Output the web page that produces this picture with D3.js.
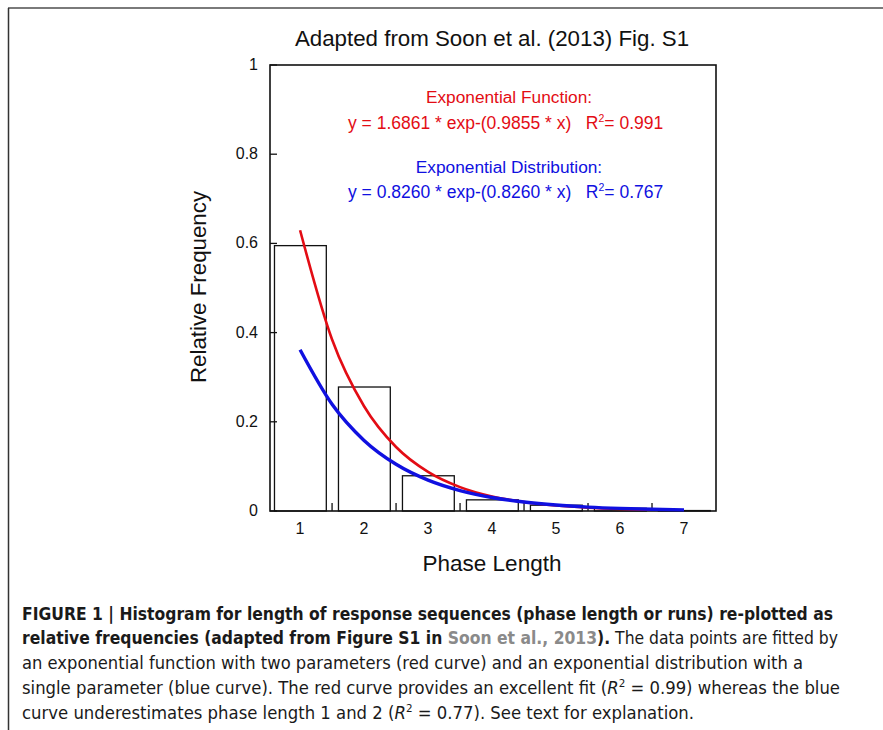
<!DOCTYPE html>
<html><head><meta charset="utf-8">
<script src="https://cdn.jsdelivr.net/npm/d3@7"></script>
<style>body{margin:0;background:#fff}svg{display:block}text{white-space:pre}</style>
</head><body>
<svg id="c" width="883" height="730"></svg>
<script>
// ---- data ----
const phaseLengths = [1, 2, 3, 4, 5, 6, 7];
const relFreq = [0.595, 0.278, 0.079, 0.025, 0.013, 0.006, 0.001];
const xTickLabels = [1, 2, 3, 4, 5, 6, 7];
const xTickMarks = [1.5, 2.5, 3.5, 4.5, 5.5, 6.5];
const yTicks = [0, 0.2, 0.4, 0.6, 0.8, 1];
const redX = [1, 1.5, 2, 2.5, 3, 3.5, 4, 4.5, 5, 5.5, 6, 6.5];
const redY = [0.6294, 0.3845, 0.2349, 0.1435, 0.0877, 0.0536, 0.0327, 0.0200, 0.0122, 0.0075, 0.0046, 0.0028];
const blueX = [1, 1.5, 2, 2.5, 3, 3.5, 4, 4.5, 5, 5.5, 6, 6.5, 7];
const blueY = [0.3616, 0.2393, 0.1583, 0.1048, 0.0693, 0.0459, 0.0303, 0.0201, 0.0133, 0.0088, 0.0058, 0.0038, 0.0025];

const svg = d3.select("#c");
const F = "'Liberation Sans', Arial, Helvetica, sans-serif";
const RED = "#e30c14", BLUE = "#1010e0";

// frame
svg.append("line").attr("x1", 8).attr("x2", 883).attr("y1", 8).attr("y2", 8).attr("stroke", "#7a7a7a").attr("stroke-width", 2);
svg.append("line").attr("x1", 8.5).attr("x2", 8.5).attr("y1", 8).attr("y2", 730).attr("stroke", "#333").attr("stroke-width", 1.5);

const L = 270, R = 716, T = 65, B = 511;
const x = d3.scaleLinear().domain([0.53, 7.5]).range([L, R]);
const y = d3.scaleLinear().domain([0, 1]).range([B, T]);

const g = svg.append("g");
// bars
const bw = 0.81;
g.selectAll("rect.bar").data(phaseLengths).join("rect")
  .attr("x", d => x(d - 0.4))
  .attr("width", d => x(d - 0.4 + bw) - x(d - 0.4))
  .attr("y", (d, i) => y(relFreq[i]))
  .attr("height", (d, i) => y(0) - y(relFreq[i]))
  .attr("fill", "none").attr("stroke", "#111").attr("stroke-width", 1.3);

// axes box
g.append("rect").attr("x", L).attr("y", T).attr("width", R - L).attr("height", B - T)
  .attr("fill", "none").attr("stroke", "#111").attr("stroke-width", 1.6);

// x ticks (inward)
g.selectAll("line.xt").data(xTickMarks).join("line")
  .attr("x1", d => x(d)).attr("x2", d => x(d)).attr("y1", B).attr("y2", B - 8)
  .attr("stroke", "#111").attr("stroke-width", 1.3);
// y ticks (inward)
g.selectAll("line.yt").data(yTicks).join("line")
  .attr("x1", L).attr("x2", L + 7).attr("y1", d => y(d)).attr("y2", d => y(d))
  .attr("stroke", "#111").attr("stroke-width", 1.3);

// tick labels
g.selectAll("text.xl").data(xTickLabels).join("text")
  .attr("x", d => x(d)).attr("y", 534).attr("text-anchor", "middle")
  .attr("font-family", F).attr("font-size", 16).attr("fill", "#111").text(d => d);
g.selectAll("text.yl").data(yTicks).join("text")
  .attr("x", 258).attr("y", d => y(d) + 5).attr("text-anchor", "end")
  .attr("font-family", F).attr("font-size", 16).attr("fill", "#111").text(d => d);

// curves
const line = d3.line().x(d => x(d[0])).y(d => y(d[1])).curve(d3.curveMonotoneX);
g.append("path").datum(redX.map((v, i) => [v, redY[i]])).attr("d", line)
  .attr("fill", "none").attr("stroke", RED).attr("stroke-width", 2.6);
g.append("path").datum(blueX.map((v, i) => [v, blueY[i]])).attr("d", line)
  .attr("fill", "none").attr("stroke", BLUE).attr("stroke-width", 3.4);

// title & labels
svg.append("text").attr("x", 492).attr("y", 46).attr("text-anchor", "middle")
  .attr("font-family", F).attr("font-size", 22.3).attr("fill", "#111").text("Adapted from Soon et al. (2013) Fig. S1");
svg.append("text").attr("x", 492).attr("y", 571).attr("text-anchor", "middle")
  .attr("font-family", F).attr("font-size", 22.5).attr("fill", "#111").text("Phase Length");
svg.append("text").attr("transform", "translate(206,287) rotate(-90)").attr("text-anchor", "middle")
  .attr("font-family", F).attr("font-size", 22.3).attr("fill", "#111").text("Relative Frequency");

// annotations
function eq(yb, color, pre, r2) {
  const t = svg.append("text").attr("x", 348).attr("y", yb).attr("font-family", F)
    .attr("font-size", 17.5).attr("fill", color).attr("xml:space", "preserve");
  t.append("tspan").text(pre + "   R");
  t.append("tspan").attr("font-size", 10.5).attr("dy", -7).text("2");
  t.append("tspan").attr("dy", 7).text("= " + r2);
}
svg.append("text").attr("x", 509).attr("y", 103).attr("text-anchor", "middle").attr("font-family", F)
  .attr("font-size", 17.3).attr("fill", RED).text("Exponential Function:");
eq(129, RED, "y = 1.6861 * exp-(0.9855 * x)", "0.991");
svg.append("text").attr("x", 509).attr("y", 173).attr("text-anchor", "middle").attr("font-family", F)
  .attr("font-size", 17.3).attr("fill", BLUE).text("Exponential Distribution:");
eq(198, BLUE, "y = 0.8260 * exp-(0.8260 * x)", "0.767");

// caption
const CF = "'Liberation Sans Narrow', 'DejaVu Sans Condensed', 'Liberation Sans', sans-serif";
const cap = [
  {yb: 620, w: 811, parts: [{t: "FIGURE 1 | Histogram for length of response sequences (phase length or runs) re-plotted as", b: true}]},
  {yb: 644, w: 816, parts: [{t: "relative frequencies (adapted from Figure S1 in ", b: true}, {t: "Soon et al., 2013", b: true, c: "#8a8a8a"}, {t: ").", b: true}, {t: " The data points are fitted by"}]},
  {yb: 669, w: 781, parts: [{t: "an exponential function with two parameters (red curve) and an exponential distribution with a"}]},
  {yb: 694, w: 818, parts: [{t: "single parameter (blue curve). The red curve provides an excellent fit ("}, {t: "R", i: true}, {t: "2", sup: true}, {t: " = 0.99) whereas the blue", down: true}]},
  {yb: 719, w: 672, parts: [{t: "curve underestimates phase length 1 and 2 ("}, {t: "R", i: true}, {t: "2", sup: true}, {t: " = 0.77). See text for explanation.", down: true}]}
];
cap.forEach(ln => {
  const t = svg.append("text").attr("x", 22).attr("y", ln.yb).attr("font-family", CF)
    .attr("font-size", 17.5).attr("fill", "#1a1a1a")
    .attr("textLength", ln.w).attr("lengthAdjust", "spacingAndGlyphs");
  ln.parts.forEach(p => {
    const s = t.append("tspan").text(p.t);
    if (p.b) s.attr("font-weight", "bold");
    if (p.c) s.attr("fill", p.c);
    if (p.i) s.attr("font-style", "italic");
    if (p.sup) s.attr("font-size", 11).attr("dy", -7);
    if (p.down) s.attr("dy", 7);
  });
});
</script>
</body></html>
